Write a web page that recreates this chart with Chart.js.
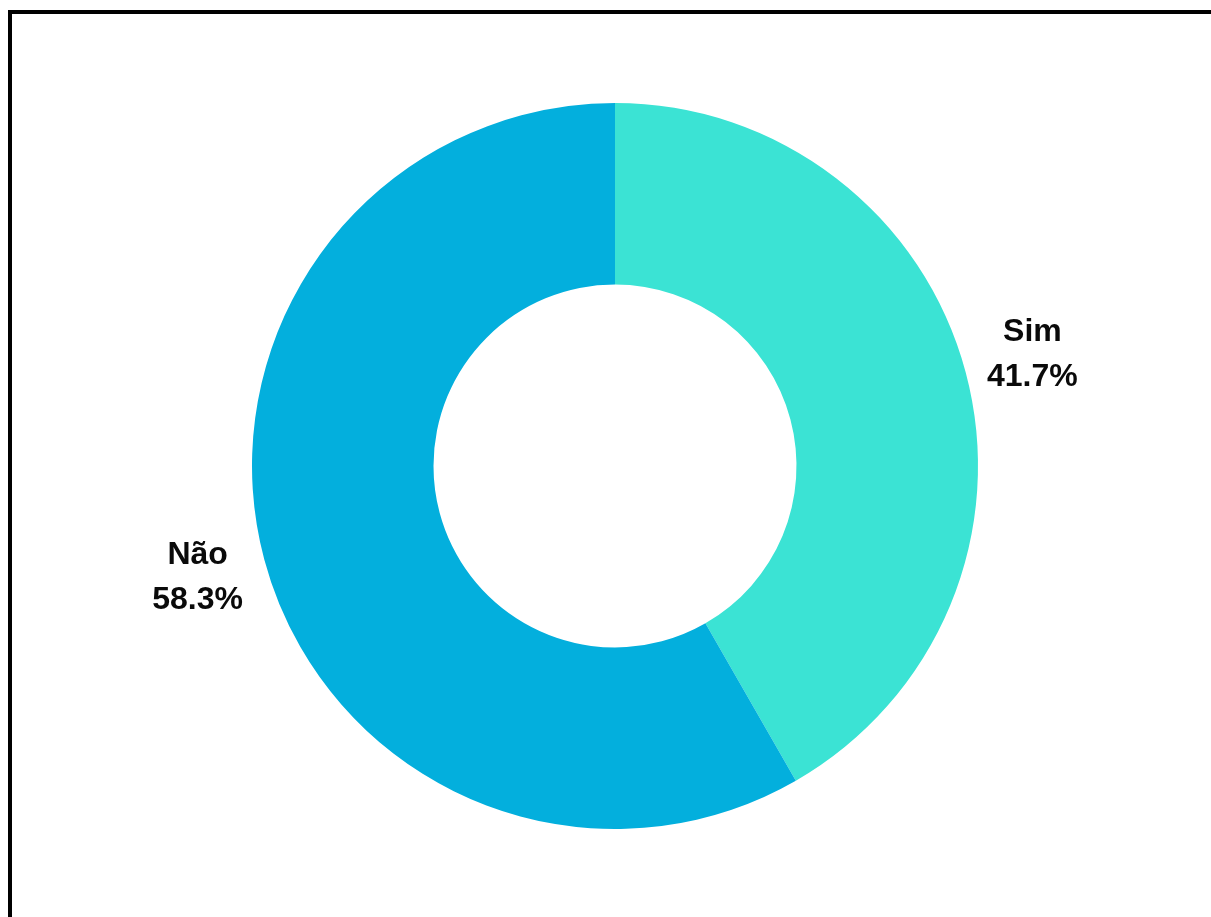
<!DOCTYPE html>
<html>
<head>
<meta charset="utf-8">
<script src="https://cdn.jsdelivr.net/npm/chart.js@4.4.1/dist/chart.umd.min.js"></script>
<style>
  html, body { margin: 0; padding: 0; background: #fff; overflow: hidden; }
  #frame {
    position: absolute; left: 8px; top: 10px;
    width: 1300px; height: 1000px;
    border: 4px solid #000; box-sizing: border-box;
  }
  #wrap { position: absolute; left: 0; top: 0; width: 1211px; height: 917px; }
</style>
</head>
<body>
<div id="frame"></div>
<div id="wrap"><canvas id="resposta" width="1211" height="917"></canvas></div>
<script>
// respostas (%)
var labels = ["Sim", "Não"];
var values = [41.7, 58.3];
var colors = ["#3be3d4", "#03afdd"];

// rótulos fora da rosca: nome + percentagem
var outsideLabels = {
  id: 'outsideLabels',
  afterDatasetsDraw: function(chart) {
    var ctx = chart.ctx;
    var meta = chart.getDatasetMeta(0);
    ctx.save();
    ctx.fillStyle = '#0a0a0a';
    ctx.font = 'bold 32px "Liberation Sans", Arial, sans-serif';
    ctx.textAlign = 'center';
    ctx.textBaseline = 'middle';
    meta.data.forEach(function(arc, i) {
      var p = arc.getProps(['x', 'y', 'startAngle', 'endAngle', 'outerRadius'], true);
      var mid = (p.startAngle + p.endAngle) / 2;
      var r = p.outerRadius + 69;
      var x = p.x + Math.cos(mid) * r;
      var y = p.y + Math.sin(mid) * r;
      ctx.fillText(labels[i], x, y - 22);
      ctx.fillText(values[i].toFixed(1) + '%', x, y + 23);
    });
    ctx.restore();
  }
};

new Chart(document.getElementById("resposta"), {
  type: 'doughnut',
  data: {
    labels: labels,
    datasets: [{
      data: values,
      backgroundColor: colors,
      borderWidth: 0
    }]
  },
  options: {
    responsive: false,
    animation: false,
    cutout: '50%',
    layout: { padding: { top: 103, bottom: 88, left: 100, right: 81 } },
    plugins: {
      legend: { display: false },
      tooltip: { enabled: false }
    }
  },
  plugins: [outsideLabels]
});
</script>
</body>
</html>
